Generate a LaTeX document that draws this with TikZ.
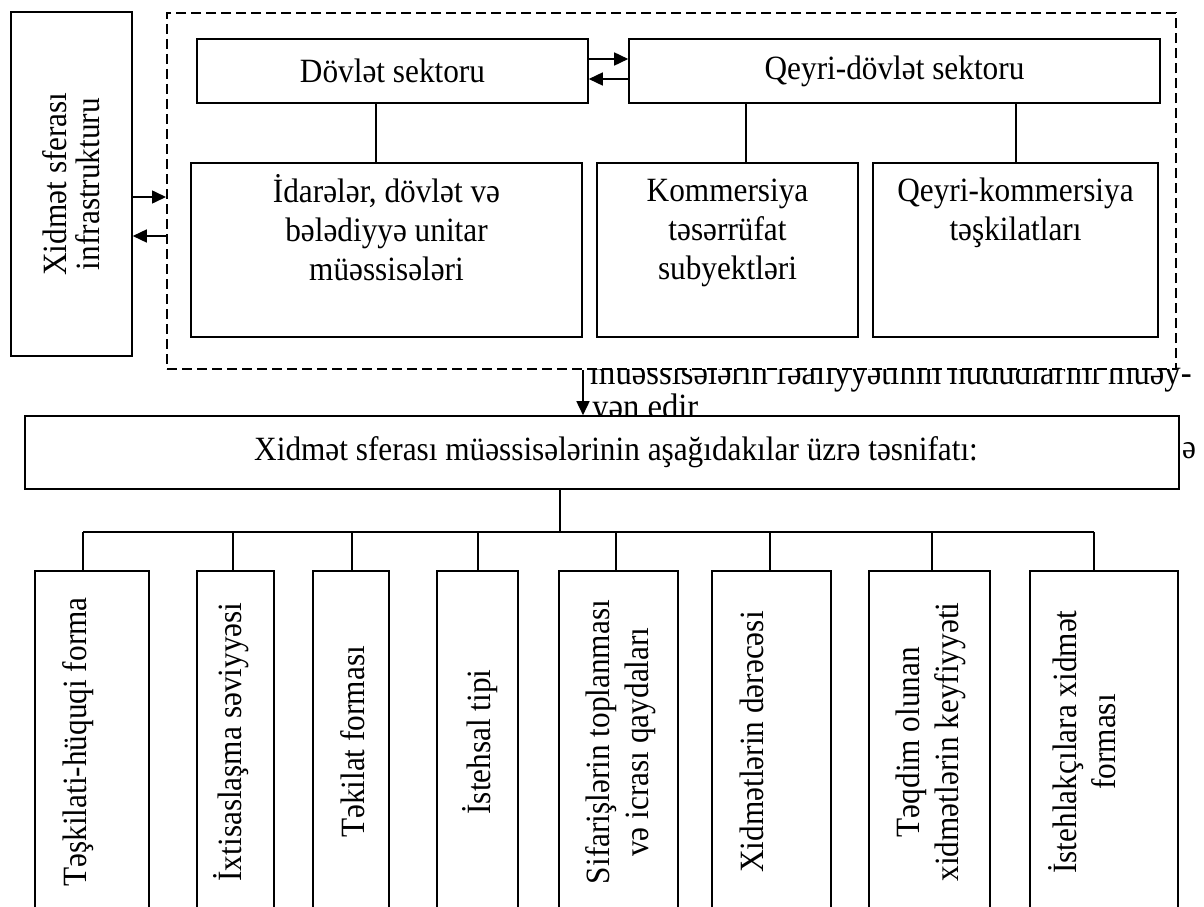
\documentclass[tikz,border=0pt]{standalone}
\usepackage{fontspec}
\setmainfont{Liberation Serif}[FakeStretch=0.92]
\usetikzlibrary{arrows.meta}

\tikzset{
	blok/.style={draw, line width=1.6pt, fill=white, inner sep=0pt},
	yazi/.style={align=center, inner sep=0pt, font=\fontsize{34}{39}\selectfont},
	xett/.style={line width=1.3pt},
	ox/.style={line width=1.6pt, -{Triangle[length=14pt,width=13pt]}},
}

\begin{document}
\begin{tikzpicture}[x=1pt, y=-1pt]
		\useasboundingbox (0,0) rectangle (1204,907);
		
		% text of the page behind the boxes
		\node[yazi, anchor=base west, font=\fontsize{35.5}{39}\selectfont] (sat1) at (590,384) {müəssisələrin fəaliyyətinin hüdudlarını müəy-};
		\node[yazi, anchor=base west, font=\fontsize{35.5}{39}\selectfont] (sat2) at (592,418) {yən edir};
		\node[yazi, anchor=base west] (sat3) at (1182,458) {ə};
		
		\node[blok, dash pattern=on 10pt off 5pt, line width=2pt, minimum width=1009pt, minimum height=356pt] (grup) at (671.5,191) {};
		
		\node[blok, minimum width=121pt, minimum height=344pt] (infra) at (71.5,184) {};
		\node[yazi, rotate=90, font=\fontsize{34}{33}\selectfont] (infrat) at (infra.center) {Xidmət sferası\\ infrastrukturu};
		
		\node[blok, yazi, minimum width=391pt, minimum height=64pt] (dov) at (392.5,71) {Dövlət sektoru};
		\node[blok, yazi, minimum width=531pt, minimum height=64pt] (qey) at (894.5,71) {Qeyri-dövlət sektoru};
		
		\node[blok, minimum width=391pt, minimum height=174pt] (ida) at (386.5,250) {};
		\node[blok, minimum width=261pt, minimum height=174pt] (kom) at (727.5,250) {};
		\node[blok, minimum width=285pt, minimum height=174pt] (qk) at (1015.5,250) {};
		\node[yazi, anchor=north] (idat) at ([yshift=-12pt]ida.north) {\strut İdarələr, dövlət və\\ bələdiyyə unitar\\ müəssisələri};
		\node[yazi, anchor=north] (komt) at ([yshift=-12pt]kom.north) {\strut Kommersiya\\ təsərrüfat\\ subyektləri};
		\node[yazi, anchor=north] (qkt) at ([yshift=-12pt]qk.north) {\strut Qeyri-kommersiya\\ təşkilatları};
		
		\draw[ox] (infra.east |- 0,197) -- (grup.west |- 0,197);
		\draw[ox] (grup.west |- 0,236) -- (infra.east |- 0,236);
		\draw[ox] (dov.east |- 0,59) -- (qey.west |- 0,59);
		\draw[ox] (qey.west |- 0,79) -- (dov.east |- 0,79);
		\draw[xett] (dov.south -| 376,0) -- (ida.north -| 376,0);
		\draw[xett] (qey.south -| 746,0) -- (kom.north -| 746,0);
		\draw[xett] (qey.south -| 1016,0) -- (qk.north -| 1016,0);
		
		\node[blok, minimum width=1154pt, minimum height=73pt] (big) at (602,452.5) {};
		\node[yazi] (bigt) at ([xshift=14pt]big.center) {Xidmət sferası müəssisələrinin aşağıdakılar üzrə təsnifatı:};
		\draw[ox] (grup.south -| 583,0) -- (big.north -| 583,0);
		
		\coordinate (bus) at (560,532);
		\draw[xett] (big.south -| bus) -- (bus);
		\draw[xett] (83,532) -- (1094,532);
		
		\begin{scope}
		\clip (0,0) rectangle (1204,907);
		\foreach \n/\a/\b/\d/\t/\s in {
			b1/35/149/83/78/{Təşkilati-hüquqi forma},
			b2/197/274/233/231/{İxtisaslaşma səviyyəsi},
			b3/313/389/352/353/{Təkilat forması},
			b4/437/518/478/480/{İstehsal tipi},
			b5/559/678/616/621/{Sifarişlərin toplanması\\ və icrası qaydaları},
			b6/712/831/770/752/{Xidmətlərin dərəcəsi},
			b7/869/990/932/931/{Təqdim olunan\\ xidmətlərin keyfiyyəti},
			b8/1030/1178/1094/1082/{İstehlakçılara xidmət\\ forması}}{
			\pgfmathsetmacro{\w}{\b-\a}
			\pgfmathsetmacro{\c}{(\a+\b)/2}
			\node[blok, minimum width=\w pt, minimum height=342pt] (\n) at (\c,742) {};
			\node[yazi, rotate=90] (t\n) at (\t,742) {\s};
			\draw[xett] (\d,532) -- (\n.north -| \d,0);
		}
		\end{scope}
	\end{tikzpicture}
\end{document}
